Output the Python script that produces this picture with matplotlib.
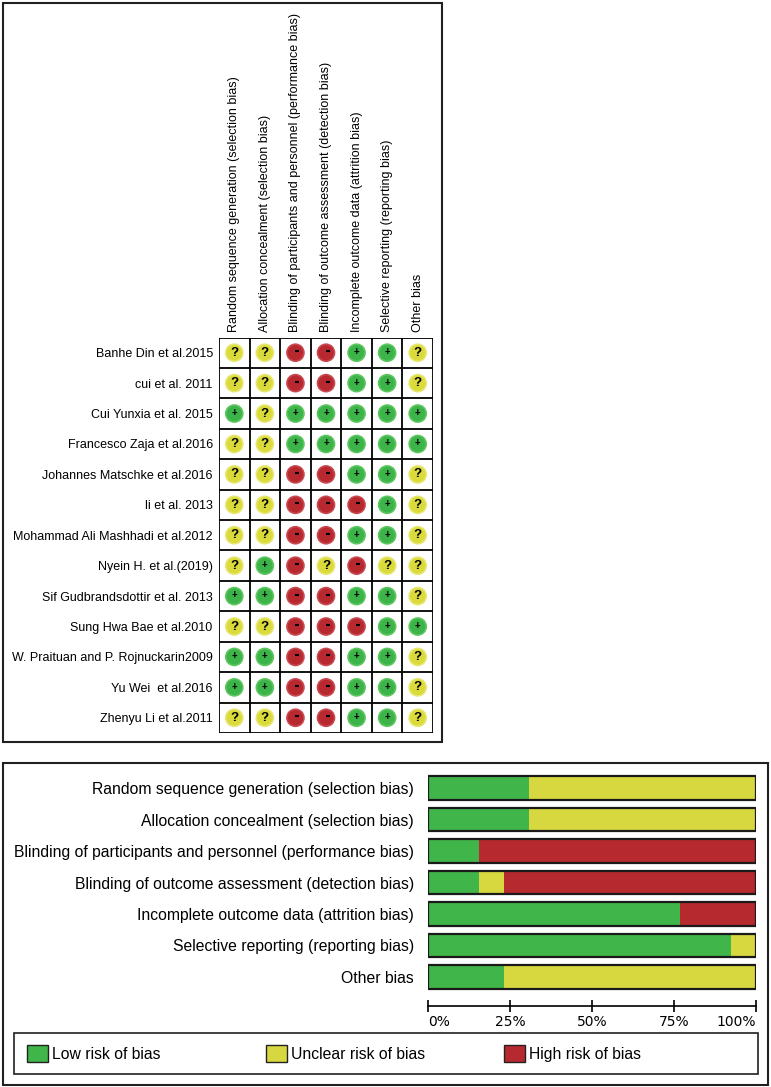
import matplotlib
matplotlib.use('Agg')
import matplotlib.pyplot as plt
from matplotlib.patches import Rectangle, Patch
import numpy as np

plt.rcParams['font.family'] = ['Liberation Sans', 'DejaVu Sans']

# ---------------- data ----------------
studies = ["Banhe Din et al.2015", "cui et al. 2011", "Cui Yunxia et al. 2015",
           "Francesco Zaja et al.2016", "Johannes Matschke et al.2016", "li et al. 2013",
           "Mohammad Ali Mashhadi et al.2012", "Nyein H. et al.(2019)",
           "Sif Gudbrandsdottir et al. 2013", "Sung Hwa Bae et al.2010",
           "W. Praituan and P. Rojnuckarin2009", "Yu Wei  et al.2016", "Zhenyu Li et al.2011"]

domains = ["Random sequence generation (selection bias)",
           "Allocation concealment (selection bias)",
           "Blinding of participants and personnel (performance bias)",
           "Blinding of outcome assessment (detection bias)",
           "Incomplete outcome data (attrition bias)",
           "Selective reporting (reporting bias)",
           "Other bias"]

# '+' low risk, '?' unclear, '-' high risk ; one string per study, one char per domain
judgements = ["??--++?",
              "??--++?",
              "+?+++++",
              "??+++++",
              "??--++?",
              "??---+?",
              "??--++?",
              "?+-?-??",
              "++--++?",
              "??---++",
              "++--++?",
              "++--++?",
              "??--++?"]

low_pct = [30.8, 30.8, 15.4, 15.4, 76.9, 92.3, 23.1]
unclear_pct = [69.2, 69.2, 0.0, 7.7, 0.0, 7.7, 76.9]
high_pct = [0.0, 0.0, 84.6, 76.9, 23.1, 0.0, 0.0]

tick_vals = [0, 25, 50, 75, 100]
tick_labels = ["0%", "25%", "50%", "75%", "100%"]
legend_labels = ["Low risk of bias", "Unclear risk of bias", "High risk of bias"]

# ---------------- style ----------------
GREEN = '#40B54A'
YELLOW = '#D7D73F'
RED = '#B6292F'
circle_fc = {'+': '#3DB44A', '?': '#DADA3A', '-': '#B8282F'}
circle_ec = {'+': '#5CC65E', '?': '#E6E66E', '-': '#C84850'}

W, H = 771, 1087
fig = plt.figure(figsize=(W / 100, H / 100), dpi=100)


def rect(x0, y0, x1, y1):
    return [x0 / W, 1 - y1 / H, (x1 - x0) / W, (y1 - y0) / H]


def box(x0, y0, x1, y1, lw=1.5):
    fig.add_artist(Rectangle((x0 / W, 1 - y1 / H), (x1 - x0) / W, (y1 - y0) / H,
                             transform=fig.transFigure, fill=False, lw=lw, ec='#202020'))


box(3, 3, 442, 742)
box(3, 763, 768, 1085)
box(14, 1033, 758, 1074, lw=1.2)

# ---------------- summary grid ----------------
axg = fig.add_axes(rect(219, 337.5, 433, 733))
ncol = len(domains)
nrow = len(studies)
axg.set_xlim(0, ncol)
axg.set_ylim(nrow, 0)
for i in range(ncol + 1):
    axg.axvline(i, color='black', lw=1.3)
for j in range(nrow + 1):
    axg.axhline(j, color='black', lw=1.3)
for s in axg.spines.values():
    s.set_visible(False)

xs, ys, fcs, ecs = [], [], [], []
for r, row in enumerate(judgements):
    for c, v in enumerate(row):
        xs.append(c + 0.5)
        ys.append(r + 0.5)
        fcs.append(circle_fc[v])
        ecs.append(circle_ec[v])
axg.scatter(xs, ys, s=150, c=fcs, edgecolors=ecs, linewidths=1.2, zorder=3)

minus_x, minus_y = [], []
for r, row in enumerate(judgements):
    for c, v in enumerate(row):
        if v == '?':
            axg.text(c + 0.5, r + 0.5, '?', ha='center', va='center', fontsize=9.5,
                     fontweight='bold', color='black', zorder=4)
        elif v == '+':
            axg.text(c + 0.5, r + 0.48, '+', ha='center', va='center', fontsize=7,
                     fontweight='bold', color='black', zorder=4)
        else:
            minus_x.append(c + 0.56)
            minus_y.append(r + 0.45)
axg.scatter(minus_x, minus_y, marker='_', s=8, c='black', linewidths=1.5, zorder=4)

axg.set_xticks(np.arange(ncol) + 0.5)
axg.set_xticklabels(domains, rotation=90, fontsize=9)
axg.xaxis.tick_top()
axg.set_yticks(np.arange(nrow) + 0.5)
axg.set_yticklabels(studies, fontsize=9)
axg.tick_params(axis='both', length=0)
axg.tick_params(axis='x', pad=4)
axg.tick_params(axis='y', pad=4.5)

# ---------------- summary bars ----------------
axb = fig.add_axes(rect(428, 772.5, 756, 992.5))
y = np.arange(len(domains))
low = np.array(low_pct)
unc = np.array(unclear_pct)
high = np.array(high_pct)
bh = 0.75
axb.barh(y, low, height=bh, color=GREEN, lw=0)
axb.barh(y, unc, left=low, height=bh, color=YELLOW, lw=0)
axb.barh(y, high, left=low + unc, height=bh, color=RED, lw=0)
axb.barh(y, low + unc + high, height=bh, fill=False, edgecolor='#1a1a1a', lw=1.6)
axb.set_xlim(0, 100)
axb.set_ylim(len(domains) - 0.5, -0.5)
axb.set_yticks(y)
axb.set_yticklabels(domains, fontsize=11.3)
axb.tick_params(axis='y', length=0, pad=10)
for side in ['left', 'right', 'top']:
    axb.spines[side].set_visible(False)
axb.spines['bottom'].set_position(('outward', 9.5))
axb.spines['bottom'].set_linewidth(1.2)
axb.set_xticks(tick_vals)
axb.set_xticklabels(tick_labels, fontsize=10, family='DejaVu Sans')
axb.tick_params(axis='x', direction='inout', length=9, width=1.2, pad=2)
lbls = axb.get_xticklabels()
lbls[0].set_ha('left')
lbls[-1].set_ha('right')

# ---------------- legend ----------------
leg_colors = [GREEN, YELLOW, RED]
leg_x = [27, 266, 504]
for lab, col, lx in zip(legend_labels, leg_colors, leg_x):
    fig.legend(handles=[Patch(facecolor=col, edgecolor='#222222', label=lab)],
               loc='center left', bbox_to_anchor=(lx / W, 1 - 1053.5 / H),
               frameon=False, fontsize=11.3, handlelength=1.35, handleheight=1.3,
               borderpad=0, borderaxespad=0, handletextpad=0.25)

fig.savefig('out.png', dpi=100, facecolor='white')
